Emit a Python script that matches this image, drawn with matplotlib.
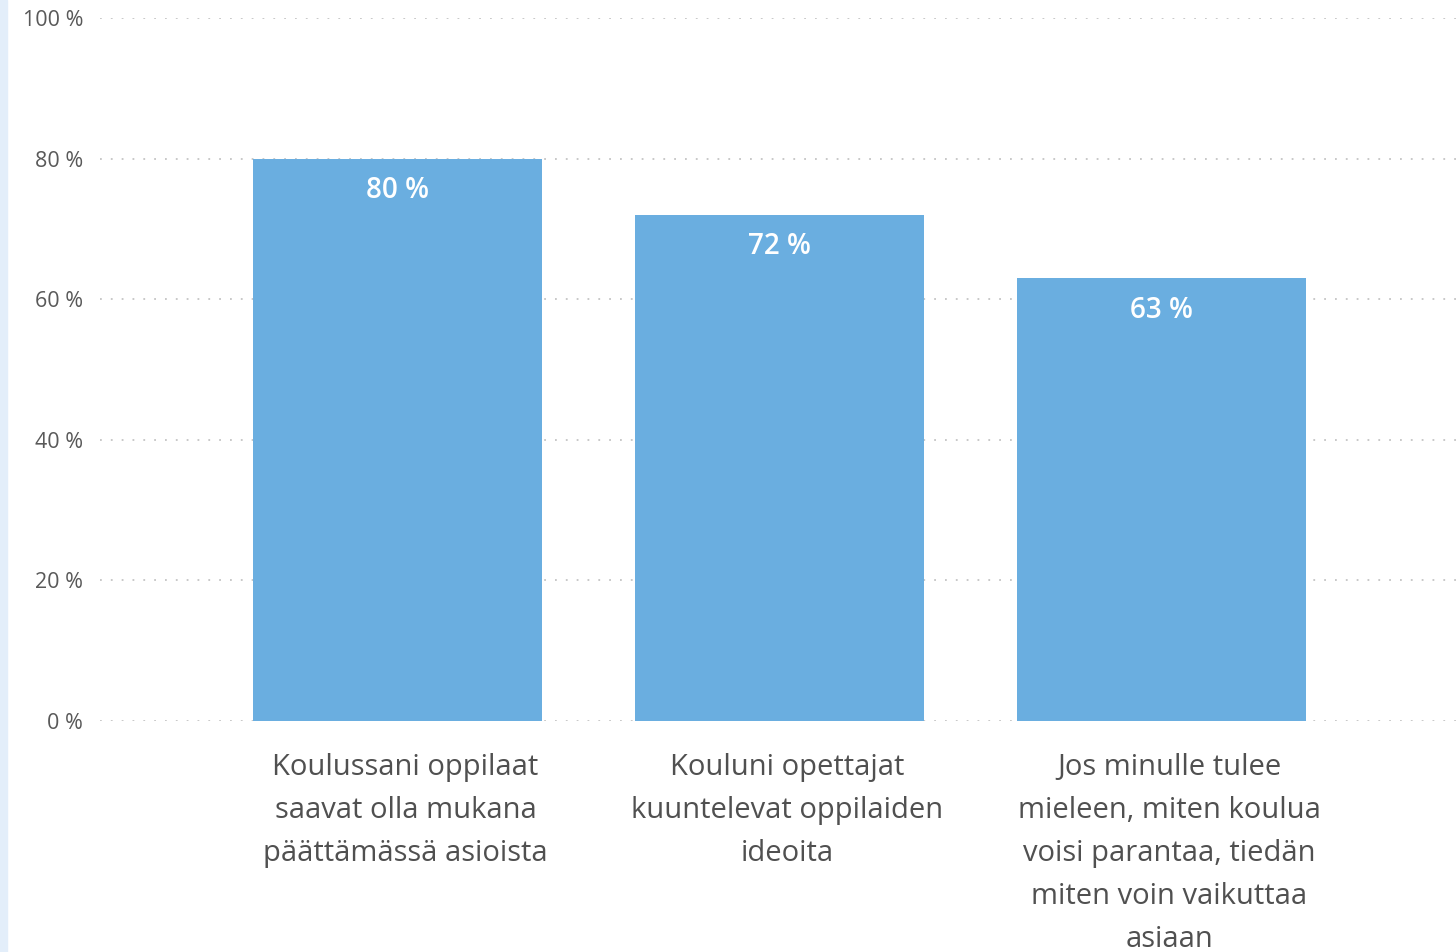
import matplotlib
matplotlib.use("Agg")
import matplotlib.pyplot as plt
import matplotlib.transforms as mtransforms
from matplotlib.patches import Rectangle

plt.rcParams['font.family'] = ['Open Sans', 'DejaVu Sans']

categories = [
    "Koulussani oppilaat\nsaavat olla mukana\npäättämässä asioista",
    "Kouluni opettajat\nkuuntelevat oppilaiden\nideoita",
    "Jos minulle tulee\nmieleen, miten koulua\nvoisi parantaa, tiedän\nmiten voin vaikuttaa\nasiaan",
]
values = [80, 72, 63]
yticks = [0, 20, 40, 60, 80, 100]
ytick_labels = ["0 %", "20 %", "40 %", "60 %", "80 %", "100 %"]

bar_color = "#6aaee0"

fig = plt.figure(figsize=(14.56, 9.52), dpi=100)
# thin light-blue strip at left edge
fig.patches.append(Rectangle((0, 0), 7 / 1456, 1, transform=fig.transFigure,
                             color="#e3eefa", zorder=0))

ax = fig.add_axes([100 / 1456, 231 / 952, 1 - 100 / 1456, 703 / 952])
x = list(range(len(values)))
bars = ax.bar(x, values, width=0.757, color=bar_color, zorder=3)

ax.set_xlim(-0.779, 2.771)
ax.set_ylim(0, 100)
ax.set_yticks(yticks)
ax.set_yticklabels(ytick_labels, fontsize=15.5, color="#595959")
ax.yaxis.grid(True, linestyle=(0, (1, 5)), color="#c4c4c4", linewidth=1.3, zorder=0)
ax.tick_params(axis='y', length=0, pad=12)
ax.set_xticks(x)
ax.set_xticklabels(categories, fontsize=21, color="#505050", linespacing=1.64)
ax.tick_params(axis='x', length=0, pad=23)
# category labels sit a little right of the bar centres in the original
shift = mtransforms.ScaledTranslation(8 / 100, 0, fig.dpi_scale_trans)
for lbl in ax.get_xticklabels():
    lbl.set_transform(lbl.get_transform() + shift)
for s in ax.spines.values():
    s.set_visible(False)

for b, v in zip(bars, values):
    ax.text(b.get_x() + b.get_width() / 2, v - 2.5, f"{v} %", ha="center", va="top",
            color="white", fontsize=20, fontweight="semibold", zorder=4)

fig.savefig("out.png", dpi=100)
